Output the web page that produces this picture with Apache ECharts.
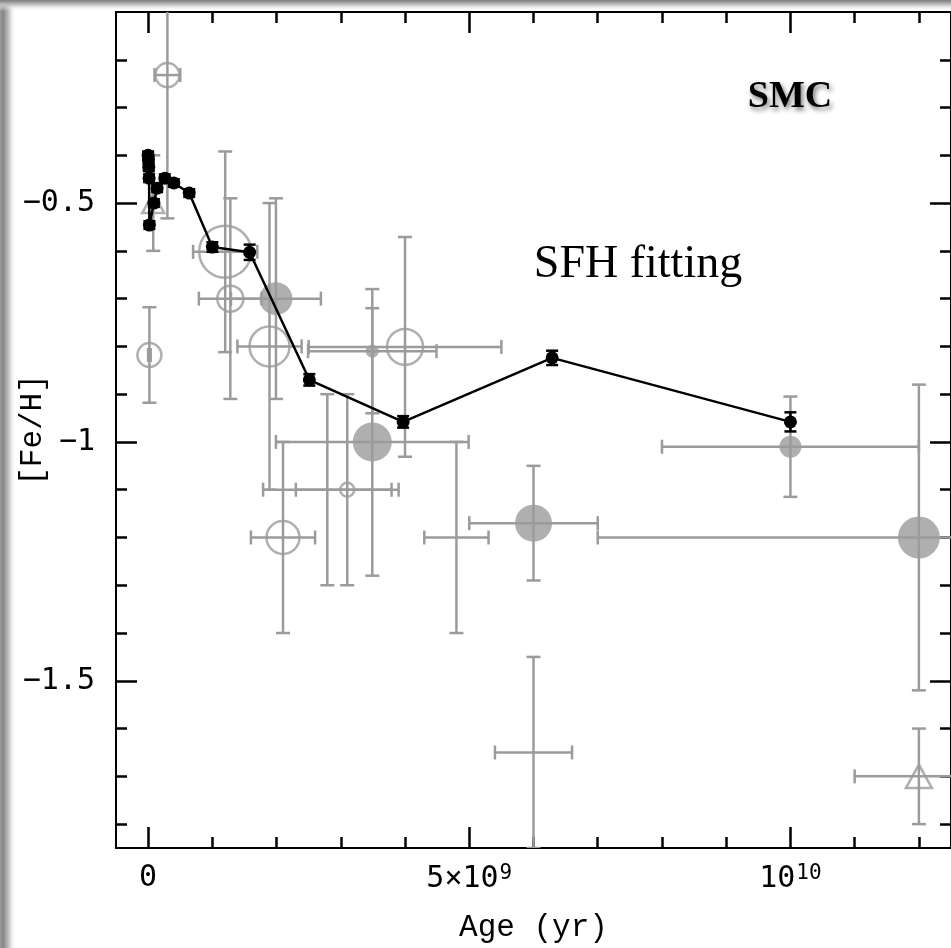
<!DOCTYPE html>
<html>
<head>
<meta charset="utf-8">
<script src="https://cdn.jsdelivr.net/npm/echarts@6/dist/echarts.min.js"></script>
<style>
html,body{margin:0;padding:0;background:#fff;}
#chart{width:951px;height:948px;}
</style>
</head>
<body>
<div id="chart"></div>
<script>
// ---------------- DATA ----------------
// SFH fitting (black line), age in Gyr
const sfhAge   = [0.00, 0.005, 0.01, 0.015, 0.02, 0.09, 0.14, 0.26, 0.40, 0.64, 1.00, 1.58, 2.51, 3.97, 6.29, 10.00];
const sfhFeH   = [-0.400, -0.410, -0.425, -0.448, -0.546, -0.500, -0.469, -0.448, -0.458, -0.479, -0.592, -0.603, -0.870, -0.958, -0.824, -0.958];
const sfhFeHErr= [0.008, 0.008, 0.008, 0.008, 0.008, 0.008, 0.008, 0.008, 0.008, 0.008, 0.010, 0.016, 0.012, 0.012, 0.015, 0.020];

// Literature clusters (grey), age in Gyr
const litAge    = [0.30, 0.02, 0.08, 1.20, 1.28, 1.99, 1.89, 2.79, 3.10, 2.10, 3.49, 3.49, 4.00, 4.80, 6.00, 12.00, 10.00, 6.00, 12.00];
const litFeH    = [-0.232, -0.818, -0.500, -0.602, -0.700, -0.700, -0.800, -1.100, -1.100, -1.200, -1.000, -0.810, -0.801, -1.200, -1.170, -1.200, -1.010, -1.650, -1.700];
const litAgeErr = [0.20, 0.02, 0.00, 0.50, 0.49, 0.70, 0.50, 1.00, 0.80, 0.50, 1.50, 1.00, 1.50, 0.50, 1.00, 5.00, 2.00, 0.60, 1.00];
const litFeHErr = [0.30, 0.10, 0.10, 0.21, 0.21, 0.21, 0.30, 0.20, 0.20, 0.20, 0.28, 0.13, 0.23, 0.20, 0.12, 0.32, 0.105, 0.20, 0.10];

// Axis ticks / labels
const xMajorTicks = [0, 5, 10];
const xTickLabels = ['0', '5\u00d710{sup|9}', '10{sup|10}'];
const xMinorTicks = [1, 2, 3, 4, 6, 7, 8, 9, 11, 12];
const yMajorTicks = [-1.5, -1, -0.5];
const yTickLabels = ['\u22121.5', '\u22121', '\u22120.5'];
const yMinorTicks = [-1.8, -1.7, -1.6, -1.4, -1.3, -1.2, -1.1, -0.9, -0.8, -0.7, -0.6, -0.4, -0.3, -0.2];

// ---------------- STYLE ----------------
// marker kind and radius (px) for each grey point
const litMarkerKind = ['open','open','tri','open','open','filled','open','none','open','open','filled','filled','open','none','filled','filled','filled','none','tri'];
const litMarkerRadius = [12, 12, 11, 26, 13, 16.5, 20, 0, 7, 16.5, 19.5, 6.5, 18, 0, 18.5, 21, 11, 0, 13];

const GREY = '#9b9b9b';
const MONO = '"DejaVu Sans Mono", monospace';
const NAMEFONT = '"Liberation Mono", monospace';

const chart = echarts.init(document.getElementById('chart'), null, {renderer: 'canvas'});

function errRenderer(color, capHalf, lw) {
  return function (params, api) {
    const x = api.value(0), y = api.value(1), xe = api.value(2), ye = api.value(3);
    const c = api.coord([x, y]);
    const style = {stroke: color, lineWidth: lw, fill: null};
    const ch = [];
    if (xe > 0) {
      const l = api.coord([x - xe, y])[0], r = api.coord([x + xe, y])[0];
      ch.push({type: 'line', shape: {x1: l, y1: c[1], x2: r, y2: c[1]}, style});
      ch.push({type: 'line', shape: {x1: l, y1: c[1] - capHalf, x2: l, y2: c[1] + capHalf}, style});
      ch.push({type: 'line', shape: {x1: r, y1: c[1] - capHalf, x2: r, y2: c[1] + capHalf}, style});
    }
    if (ye > 0) {
      const t = api.coord([x, y + ye])[1], b = api.coord([x, y - ye])[1];
      ch.push({type: 'line', shape: {x1: c[0], y1: t, x2: c[0], y2: b}, style});
      ch.push({type: 'line', shape: {x1: c[0] - capHalf, y1: t, x2: c[0] + capHalf, y2: t}, style});
      ch.push({type: 'line', shape: {x1: c[0] - capHalf, y1: b, x2: c[0] + capHalf, y2: b}, style});
    }
    return {type: 'group', children: ch};
  };
}

const litErrData = litAge.map((a, i) => [a, litFeH[i], litAgeErr[i], litFeHErr[i]]);
const sfhErrData = sfhAge.map((a, i) => [a, sfhFeH[i], 0, sfhFeHErr[i]]);

function markerData(kind) {
  const out = [];
  litAge.forEach((a, i) => {
    if (litMarkerKind[i] === kind) {
      out.push({value: [a, litFeH[i]], symbolSize: kind === 'tri' ? [litMarkerRadius[i] * 2, litMarkerRadius[i] * 1.8] : litMarkerRadius[i] * 2});
    }
  });
  return out;
}

const X_MIN = -0.5, X_MAX = 12.5, Y_MIN = -1.85, Y_MAX = -0.1;

function xAxisDef(position, ticks, len, withLabel, showLine) {
  return {
    type: 'value', position, min: X_MIN, max: X_MAX,
    splitLine: {show: false},
    axisLine: {show: showLine, onZero: false, lineStyle: {color: '#000', width: 2}},
    axisTick: {show: true, inside: true, length: len, customValues: ticks, lineStyle: {color: '#000', width: 2.5}},
    axisLabel: withLabel ? {
      show: true, customValues: ticks, margin: 15,
      color: '#000', fontFamily: MONO, fontSize: 30,
      formatter: (v) => { const k = xMajorTicks.indexOf(v); return k >= 0 ? xTickLabels[k] : ''; },
      rich: {sup: {fontSize: 21, fontFamily: MONO, color: '#000', verticalAlign: 'top', padding: [0, 0, 12, 1]}}
    } : {show: false},
    name: withLabel ? 'Age (yr)' : '',
    nameLocation: 'middle', nameGap: 64, nameMoveOverlap: false,
    nameTextStyle: {fontFamily: NAMEFONT, fontSize: 31, color: '#000'}
  };
}
function yAxisDef(position, ticks, len, withLabel, showLine) {
  return {
    type: 'value', position, min: Y_MIN, max: Y_MAX,
    splitLine: {show: false},
    axisLine: {show: showLine, onZero: false, lineStyle: {color: '#000', width: 2}},
    axisTick: {show: true, inside: true, length: len, customValues: ticks, lineStyle: {color: '#000', width: 2.5}},
    axisLabel: withLabel ? {
      show: true, customValues: ticks, margin: 21,
      color: '#000', fontFamily: MONO, fontSize: 30,
      formatter: (v) => { const k = yMajorTicks.findIndex(t => Math.abs(t - v) < 1e-9); return k >= 0 ? yTickLabels[k] : ''; }
    } : {show: false},
    name: withLabel ? '[Fe/H]' : '',
    nameLocation: 'middle', nameGap: 68, nameRotate: 90, nameMoveOverlap: false,
    nameTextStyle: {fontFamily: NAMEFONT, fontSize: 31, color: '#000'}
  };
}

const option = {
  backgroundColor: '#fff',
  animation: false,
  grid: {left: 116, top: 12, right: 0, bottom: 100, containLabel: false, outerBoundsMode: 'none'},
  xAxis: [
    xAxisDef('bottom', xMajorTicks, 21, true, true),
    xAxisDef('bottom', xMinorTicks, 11, false, false),
    xAxisDef('top', xMajorTicks, 21, false, true),
    xAxisDef('top', xMinorTicks, 11, false, false)
  ],
  yAxis: [
    yAxisDef('left', yMajorTicks, 21, true, true),
    yAxisDef('left', yMinorTicks, 11, false, false),
    yAxisDef('right', yMajorTicks, 21, false, true),
    yAxisDef('right', yMinorTicks, 11, false, false)
  ],
  graphic: [
    {type: 'rect', left: 0, top: 0, z: 100, shape: {x: 0, y: 0, width: 16, height: 948},
     style: {fill: new echarts.graphic.LinearGradient(0, 0, 1, 0, [
       {offset: 0, color: '#9a9a9a'}, {offset: 0.2, color: '#858585'}, {offset: 0.55, color: '#c4c4c4'}, {offset: 1, color: 'rgba(255,255,255,0)'}])}},
    {type: 'rect', left: 0, top: 0, z: 100, shape: {x: 0, y: 0, width: 951, height: 11},
     style: {fill: new echarts.graphic.LinearGradient(0, 0, 0, 1, [
       {offset: 0, color: '#7c7c7c'}, {offset: 0.4, color: '#bdbdbd'}, {offset: 1, color: 'rgba(255,255,255,0)'}])}},
    {type: 'text', x: 638, y: 265, z: 50,
     style: {text: 'SFH fitting', font: '46px "Liberation Serif", serif', fill: '#000', textAlign: 'center', textVerticalAlign: 'middle'}},
    {type: 'text', x: 790, y: 97, z: 50,
     style: {text: 'SMC', font: 'bold 38px "Liberation Serif", serif', fill: '#000', textAlign: 'center', textVerticalAlign: 'middle',
       textShadowColor: 'rgba(0,0,0,0.55)', textShadowBlur: 5, textShadowOffsetX: 2, textShadowOffsetY: 3}}
  ],
  series: [
    {type: 'custom', name: 'lit-err', xAxisIndex: 0, yAxisIndex: 0, clip: true, z: 2, silent: true,
     renderItem: errRenderer(GREY, 7, 2.5), data: litErrData, encode: {x: 0, y: 1}},
    {type: 'scatter', name: 'lit-open', xAxisIndex: 0, yAxisIndex: 0, z: 3, silent: true, symbol: 'circle',
     itemStyle: {color: 'rgba(255,255,255,0)', borderColor: GREY, borderWidth: 2.5}, data: markerData('open')},
    {type: 'scatter', name: 'lit-filled', xAxisIndex: 0, yAxisIndex: 0, z: 3, silent: true, symbol: 'circle',
     itemStyle: {color: GREY, borderWidth: 0}, data: markerData('filled')},
    {type: 'scatter', name: 'lit-tri', xAxisIndex: 0, yAxisIndex: 0, z: 3, silent: true, symbol: 'triangle',
     itemStyle: {color: 'rgba(255,255,255,0)', borderColor: GREY, borderWidth: 2.5}, data: markerData('tri')},
    {type: 'custom', name: 'sfh-err', xAxisIndex: 0, yAxisIndex: 0, clip: true, z: 5, silent: true,
     renderItem: errRenderer('#000', 6, 2.5), data: sfhErrData, encode: {x: 0, y: 1}},
    {type: 'line', name: 'SFH', xAxisIndex: 0, yAxisIndex: 0, z: 6, silent: true,
     data: sfhAge.map((a, i) => [a, sfhFeH[i]]),
     symbol: 'circle', symbolSize: 13, showSymbol: true,
     lineStyle: {color: '#000', width: 2.5}, itemStyle: {color: '#000', borderWidth: 0}}
  ]
};
chart.setOption(option);
</script>
</body>
</html>
